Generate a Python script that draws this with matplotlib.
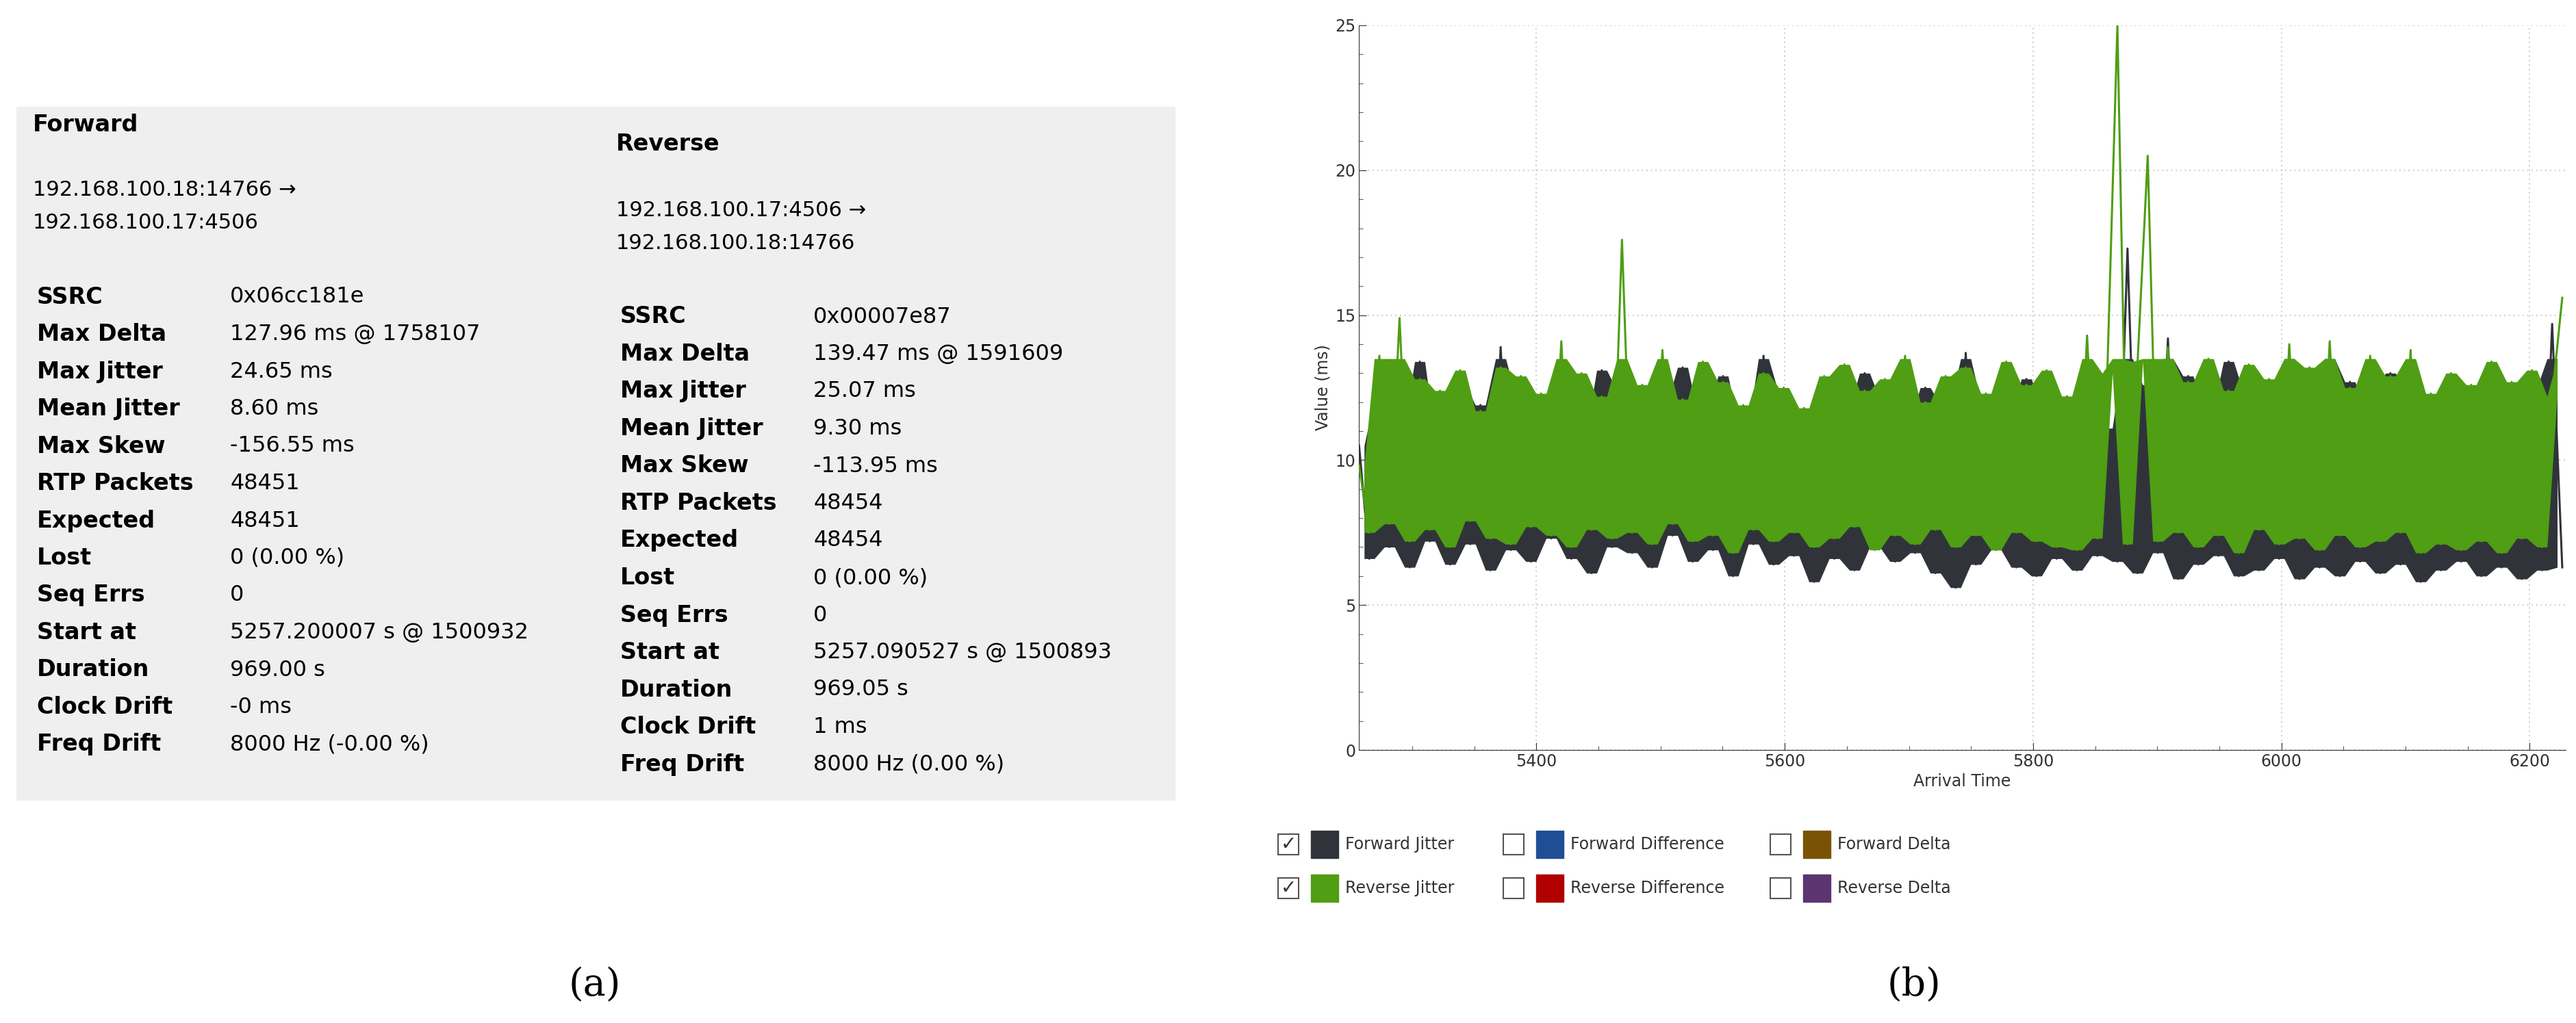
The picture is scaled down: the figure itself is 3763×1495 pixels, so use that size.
import numpy as np
import matplotlib.pyplot as plt
from matplotlib.patches import Rectangle

fwd_jitter = [10.5, 6.6, 12.1, 7.0, 11.3, 6.3, 13.4, 7.2, 10.8, 6.4, 12.6, 7.1, 11.9, 6.2, 13.9, 6.9,
              12.2, 6.5, 11.4, 7.3, 12.8, 6.6, 11.0, 6.1, 13.1, 7.0, 12.4, 6.8, 10.9, 6.3, 12.0, 7.4,
              13.2, 6.5, 11.6, 6.9, 12.9, 6.0, 11.2, 7.1, 13.6, 6.4, 12.3, 6.7, 11.5, 5.8, 12.7, 6.6,
              11.8, 6.2, 13.0, 7.0, 12.1, 6.5, 11.3, 6.8, 12.5, 6.1, 11.9, 5.6, 13.7, 6.4, 12.0, 6.9,
              11.4, 6.3, 12.8, 6.0, 11.7, 6.6, 12.2, 6.2, 13.3, 6.7, 11.1, 6.5, 17.3, 6.1, 12.6, 6.8,
              14.2, 5.9, 12.9, 6.4, 11.8, 6.7, 13.4, 6.0, 12.3, 6.2, 11.5, 6.6, 13.5, 5.9, 12.1, 6.3,
              13.6, 6.0, 12.7, 6.5, 11.9, 6.1, 13.0, 6.4, 12.4, 5.8, 11.6, 6.2, 12.9, 6.5, 12.2, 6.0,
              13.1, 6.3, 11.8, 5.9, 12.5, 6.2, 14.7, 6.3]
rev_jitter = [9.8, 7.5, 13.6, 7.8, 14.9, 7.2, 12.8, 7.6, 12.4, 7.0, 13.1, 7.9, 11.7, 7.3, 13.2, 7.1,
              12.9, 7.7, 12.3, 7.4, 14.1, 7.0, 13.0, 7.6, 12.2, 7.3, 17.6, 7.5, 12.6, 7.1, 13.8, 7.8,
              12.1, 7.2, 13.4, 7.4, 12.7, 6.8, 11.9, 7.6, 13.0, 7.2, 12.5, 7.5, 11.8, 7.0, 12.9, 7.3,
              13.3, 7.7, 12.4, 6.9, 12.8, 7.4, 13.6, 7.1, 12.0, 7.6, 12.9, 7.0, 13.2, 7.4, 12.3, 6.9,
              13.4, 7.5, 12.6, 7.2, 13.1, 7.0, 12.2, 6.9, 14.3, 7.3, 13.0, 25.0, 7.1, 13.4, 20.5, 7.2,
              13.9, 7.5, 12.7, 7.0, 13.5, 7.4, 12.4, 6.8, 13.3, 7.6, 12.8, 7.1, 14.0, 7.3, 13.2, 6.9,
              14.1, 7.4, 12.5, 7.0, 13.6, 7.2, 12.9, 7.5, 13.8, 6.8, 12.3, 7.1, 13.0, 6.9, 12.6, 7.2,
              13.4, 6.8, 12.7, 7.3, 13.1, 7.0, 12.2, 15.6]
t_start, t_end = 5257.2, 6226.2

fwd_labels = ["SSRC", "Max Delta", "Max Jitter", "Mean Jitter", "Max Skew", "RTP Packets", "Expected",
              "Lost", "Seq Errs", "Start at", "Duration", "Clock Drift", "Freq Drift"]
fwd_values = ["0x06cc181e", "127.96 ms @ 1758107", "24.65 ms", "8.60 ms", "-156.55 ms", "48451", "48451",
              "0 (0.00 %)", "0", "5257.200007 s @ 1500932", "969.00 s", "-0 ms", "8000 Hz (-0.00 %)"]
rev_values = ["0x00007e87", "139.47 ms @ 1591609", "25.07 ms", "9.30 ms", "-113.95 ms", "48454", "48454",
              "0 (0.00 %)", "0", "5257.090527 s @ 1500893", "969.05 s", "1 ms", "8000 Hz (0.00 %)"]

legend_items = [("Forward Jitter", "#30343a", True), ("Forward Difference", "#1f4e96", False),
                ("Forward Delta", "#7a5206", False), ("Reverse Jitter", "#4f9e13", True),
                ("Reverse Difference", "#b00000", False), ("Reverse Delta", "#5c3470", False)]

W, H = 3763, 1495
fig = plt.figure(figsize=(W / 100, H / 100), dpi=100)
plt.rcParams['font.family'] = ['DejaVu Sans']

# (a) statistics panel
ov = fig.add_axes([0, 0, 1, 1])
ov.set_xlim(0, W)
ov.set_ylim(H, 0)
ov.axis("off")
ov.add_patch(Rectangle((24, 156), 1692, 1013, color="#efefef", zorder=0))

def column(x0, y0, title, ip1, ip2, values):
    ov.text(x0, y0, title, fontsize=24, fontweight="bold", va="center")
    ov.text(x0, y0 + 96, ip1, fontsize=22, va="center")
    ov.text(x0, y0 + 144, ip2, fontsize=22, va="center")
    for i, (lab, val) in enumerate(zip(fwd_labels, values)):
        y = y0 + 252 + i * 54.5
        ov.text(x0 + 6, y, lab, fontsize=24, fontweight="bold", va="center")
        ov.text(x0 + 288, y, val, fontsize=23, va="center")

column(48, 182, "Forward", "192.168.100.18:14766 \u2192", "192.168.100.17:4506", fwd_values)
column(900, 211, "Reverse", "192.168.100.17:4506 \u2192", "192.168.100.18:14766", rev_values)

ov.text(869, 1440, "(a)", fontsize=40, family="DejaVu Serif", ha="center", va="center")
ov.text(2796, 1440, "(b)", fontsize=40, family="DejaVu Serif", ha="center", va="center")

# legend with checkboxes
for k, (name, col, checked) in enumerate(legend_items):
    row, c = divmod(k, 3)
    y = 1234 + row * 64
    xb = [1867, 2196, 2586][c]
    ov.add_patch(Rectangle((xb, y - 15), 30, 30, fill=False, ec="#555555", lw=1.5))
    if checked:
        ov.text(xb + 15, y, "\u2713", fontsize=20, ha="center", va="center", color="#333333")
    ov.add_patch(Rectangle((xb + 48, y - 20), 40, 40, color=col))
    ov.text(xb + 98, y, name, fontsize=17, va="center", color="#333333")

# (b) jitter chart
ax = fig.add_axes([1985 / W, 1 - 1096 / H, (3748 - 1985) / W, (1096 - 37) / H])


def draw_series(vals, color, z):
    v = np.array(vals)
    x = np.linspace(t_start, t_end, len(v))
    # band between successive lows and highs, spikes left as plain line
    lo = np.minimum(v[:-1], v[1:])
    hi = np.minimum(np.maximum(v[:-1], v[1:]), 13.5)
    xm = (x[:-1] + x[1:]) / 2
    ax.fill_between(xm, lo, hi, color=color, lw=0, zorder=z)
    ax.plot(x, v, color=color, lw=2.2, zorder=z + 0.5)


draw_series(fwd_jitter, "#30343a", 2)
draw_series(rev_jitter, "#4f9e13", 3)
ax.set_xlim(5257, 6229)
ax.set_ylim(0, 25)
ax.set_xticks([5400, 5600, 5800, 6000, 6200])
ax.set_xticks(np.arange(5300, 6229, 50), minor=True)
ax.set_yticks([0, 5, 10, 15, 20, 25])
ax.set_yticks(np.arange(0, 26, 1), minor=True)
ax.grid(True, which="major", ls=(0, (1, 3)), color="#bbbbbb", lw=1.2)
for s in ["top", "right"]:
    ax.spines[s].set_visible(False)
ax.spines["left"].set_color("#333333")
ax.spines["bottom"].set_color("#333333")
ax.tick_params(which="both", direction="in", labelsize=17, colors="#333333")
ax.tick_params(which="major", length=8)
ax.tick_params(which="minor", length=4)
ax.set_xlabel("Arrival Time", fontsize=17, color="#333333")
ax.set_ylabel("Value (ms)", fontsize=17, color="#333333")

fig.savefig("out.png", dpi=100)
